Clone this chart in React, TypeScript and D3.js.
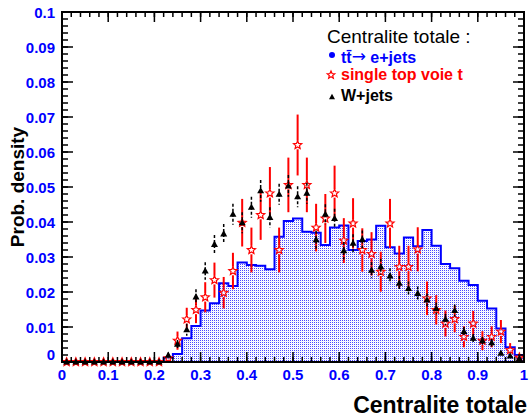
import React from "react";
import * as d3 from "d3";

// 50 bins of width 0.02 over [0,1]
const nBins = 50;
const binEdges = d3.range(nBins + 1).map((i) => i * 0.02);
const binCenters = d3.range(nBins).map((i) => i * 0.02 + 0.01);

// tt -> e+jets (blue histogram)
const ttValues = [
  0, 0, 0, 0, 0, 0, 0, 0, 0, 0,
  0, 0.0012, 0.0023, 0.0068, 0.0103, 0.0147, 0.0168, 0.0225, 0.0217, 0.0284,
  0.0277, 0.0275, 0.0265, 0.0358, 0.0403, 0.041, 0.0372, 0.0369, 0.0334, 0.0384,
  0.039, 0.032, 0.0346, 0.035, 0.0389, 0.0328, 0.031, 0.0356, 0.0331, 0.0377,
  0.0332, 0.028, 0.0268, 0.0232, 0.022, 0.0175, 0.0153, 0.0096, 0.0042, 0.002,
];

// single top voie t (red open stars)
const stValues = [
  0, 0, 0, 0, 0, 0, 0, 0, 0, 0,
  0, 0.0011, 0.0061, 0.0122, 0.0149, 0.0185, 0.0234, 0.0198, 0.026, 0.0398,
  0.032, 0.042, 0.0482, 0.032, 0.0506, 0.062, 0.0506, 0.0384, 0.041, 0.0482,
  0.0347, 0.0396, 0.032, 0.0309, 0.0258, 0.0396, 0.0272, 0.0272, 0.0322, 0.0182,
  0.0149, 0.011, 0.0123, 0.0072, 0.011, 0.0061, 0.0072, 0.0087, 0.0034, 0.0013,
];
const stErrors = [
  0, 0, 0, 0, 0, 0, 0, 0, 0, 0,
  0, 0.001, 0.0026, 0.0033, 0.0038, 0.0043, 0.005, 0.0045, 0.0052, 0.0068,
  0.0064, 0.0071, 0.0075, 0.0064, 0.0078, 0.0087, 0.0078, 0.0068, 0.007, 0.0079,
  0.0064, 0.0072, 0.0062, 0.0062, 0.0057, 0.007, 0.006, 0.006, 0.0063, 0.0048,
  0.0042, 0.0037, 0.0038, 0.003, 0.0036, 0.0027, 0.003, 0.0033, 0.002, 0.0013,
];

// W+jets (black triangles)
const wjValues = [
  0, 0, 0, 0, 0, 0, 0, 0, 0, 0,
  0, 0.0019, 0.0051, 0.0092, 0.0186, 0.026, 0.0336, 0.0366, 0.0422, 0.0398,
  0.0442, 0.0489, 0.0413, 0.0479, 0.0503, 0.0472, 0.0482, 0.0349, 0.0422, 0.041,
  0.0318, 0.0339, 0.035, 0.0262, 0.0272, 0.0246, 0.0225, 0.021, 0.0196, 0.0177,
  0.0153, 0.0122, 0.0147, 0.0087, 0.0068, 0.0061, 0.0055, 0.0025, 0.0017, 0.001,
];
const wjErrors = [
  0, 0, 0, 0, 0, 0, 0, 0, 0, 0,
  0, 0.0008, 0.0012, 0.0017, 0.0022, 0.0025, 0.0027, 0.0028, 0.003, 0.003,
  0.003, 0.0031, 0.0029, 0.003, 0.0031, 0.003, 0.003, 0.0026, 0.0029, 0.0028,
  0.0025, 0.0026, 0.0026, 0.0023, 0.0023, 0.0022, 0.0021, 0.002, 0.002, 0.0019,
  0.0017, 0.0016, 0.0017, 0.0013, 0.0012, 0.0011, 0.0011, 0.0007, 0.0006, 0.0005,
];

const xTickLabels = ["0", "0.1", "0.2", "0.3", "0.4", "0.5", "0.6", "0.7", "0.8", "0.9", "1"];
const yTickLabels = ["0", "0.01", "0.02", "0.03", "0.04", "0.05", "0.06", "0.07", "0.08", "0.09", "0.1"];

const legendTitle = "Centralite totale :";
const legendTT = "tt\u0304";
const legendArrow = "\u2192";
const legendTTRest = " e+jets";
const legendLabels = ["single top voie t", "W+jets"];
const xTitle = "Centralite totale";
const yTitle = "Prob. density";

const W = 529;
const H = 420;
const LEFT = 62;
const RIGHT = 524;
const TOP = 12;
const BOTTOM = 362;
const FONT = "'Liberation Sans', Arial, Helvetica, sans-serif";
const BLUE = "#0000ff";
const RED = "#ff0000";

function starPath(cx: number, cy: number, R: number, r: number) {
  const pts: [number, number][] = [];
  for (let k = 0; k < 10; k++) {
    const a = -Math.PI / 2 + (k * Math.PI) / 5;
    const rad = k % 2 === 0 ? R : r;
    pts.push([cx + rad * Math.cos(a), cy + rad * Math.sin(a)]);
  }
  return "M" + pts.map((p) => p[0].toFixed(2) + "," + p[1].toFixed(2)).join("L") + "Z";
}

function triPath(cx: number, cy: number, s: number) {
  const h = s * 0.9;
  return `M${cx},${cy - h * 0.6}L${cx + s / 2},${cy + h * 0.4}L${cx - s / 2},${cy + h * 0.4}Z`;
}

export default function App() {
  const x = d3.scaleLinear().domain([0, 1]).range([LEFT, RIGHT]);
  const y = d3.scaleLinear().domain([0, 0.1]).range([BOTTOM, TOP]);

  const stepPts: [number, number][] = [];
  ttValues.forEach((v, i) => {
    stepPts.push([x(binEdges[i]), y(v)]);
    stepPts.push([x(binEdges[i + 1]), y(v)]);
  });
  const line = d3.line<[number, number]>().x((d) => d[0]).y((d) => d[1]);
  const histLine = line(stepPts) || "";
  const histArea =
    d3
      .area<[number, number]>()
      .x((d) => d[0])
      .y0(y(0))
      .y1((d) => d[1])(stepPts) || "";

  const xMajor = d3.range(0, 11).map((i) => i / 10);
  const xMinor = d3.range(0, 51).map((i) => i / 50);
  const yMajor = d3.range(0, 11).map((i) => i / 100);
  const yMinor = d3.range(0, 51).map((i) => i / 500);

  const starR = 4.3;
  const triS = 7;

  return (
    <svg
      width={W}
      height={H}
      style={{ position: "absolute", left: 0, top: 0, background: "#fff" }}
      fontFamily={FONT}
    >
      <defs>
        <pattern id="dots" width="2" height="2" patternUnits="userSpaceOnUse">
          <rect width="2" height="2" fill="#ffffff" />
          <rect width="1" height="1" fill="#4848ff" />
          <rect x="1" y="1" width="1" height="1" fill="#eeeeff" />
        </pattern>
      </defs>
      <rect width={W} height={H} fill="#fff" />

      {/* histogram */}
      <path d={histArea} fill="url(#dots)" stroke="none" />
      <path d={histLine} fill="none" stroke={BLUE} strokeWidth={2} />

      {/* single top: red error bars + open stars */}
      {binCenters.map((c, i) => {
        const cx = x(c);
        const cy = y(stValues[i]);
        const top = y(stValues[i] + stErrors[i]);
        const bot = y(Math.max(0, stValues[i] - stErrors[i]));
        return (
          <g key={"st" + i}>
            {cy - top > starR && (
              <line x1={cx} x2={cx} y1={top} y2={cy - starR} stroke={RED} strokeWidth={2} />
            )}
            {bot - cy > starR && (
              <line x1={cx} x2={cx} y1={cy + starR} y2={bot} stroke={RED} strokeWidth={2} />
            )}
            <path d={starPath(cx, cy, starR, starR * 0.45)} fill="#fff" fillOpacity={0.6} stroke={RED} strokeWidth={1.2} />
          </g>
        );
      })}

      {/* W+jets: black dashed error bars + triangles */}
      {binCenters.map((c, i) => {
        const cx = x(c);
        const cy = y(wjValues[i]);
        const top = y(wjValues[i] + wjErrors[i]);
        const bot = y(Math.max(0, wjValues[i] - wjErrors[i]));
        return (
          <g key={"wj" + i}>
            <line x1={cx} x2={cx} y1={top} y2={bot} stroke="#000" strokeWidth={1.5} strokeDasharray="3,2" />
            <path d={triPath(cx, cy, triS)} fill="#000" />
          </g>
        );
      })}

      {/* frame */}
      <rect x={LEFT} y={TOP} width={RIGHT - LEFT} height={BOTTOM - TOP} fill="none" stroke="#000" strokeWidth={2} />

      {/* x ticks (bottom and top) */}
      {xMinor.map((t, i) => (
        <g key={"xm" + i}>
          <line x1={x(t)} x2={x(t)} y1={BOTTOM} y2={BOTTOM - 5} stroke="#000" strokeWidth={1.5} />
          <line x1={x(t)} x2={x(t)} y1={TOP} y2={TOP + 5} stroke="#000" strokeWidth={1.5} />
        </g>
      ))}
      {xMajor.map((t, i) => (
        <g key={"xM" + i}>
          <line x1={x(t)} x2={x(t)} y1={BOTTOM} y2={BOTTOM - 10} stroke="#000" strokeWidth={1.5} />
          <line x1={x(t)} x2={x(t)} y1={TOP} y2={TOP + 10} stroke="#000" strokeWidth={1.5} />
        </g>
      ))}
      {/* y ticks (left and right) */}
      {yMinor.map((t, i) => (
        <g key={"ym" + i}>
          <line x1={LEFT} x2={LEFT + 6} y1={y(t)} y2={y(t)} stroke="#000" strokeWidth={1.5} />
          <line x1={RIGHT} x2={RIGHT - 6} y1={y(t)} y2={y(t)} stroke="#000" strokeWidth={1.5} />
        </g>
      ))}
      {yMajor.map((t, i) => (
        <g key={"yM" + i}>
          <line x1={LEFT} x2={LEFT + 11} y1={y(t)} y2={y(t)} stroke="#000" strokeWidth={1.5} />
          <line x1={RIGHT} x2={RIGHT - 11} y1={y(t)} y2={y(t)} stroke="#000" strokeWidth={1.5} />
        </g>
      ))}

      {/* tick labels */}
      {xTickLabels.map((lab, i) => (
        <text key={"xl" + i} x={x(xMajor[i])} y={380} textAnchor="middle" fontSize={15} fontWeight="bold" fill={BLUE}>
          {lab}
        </text>
      ))}
      {yTickLabels.map((lab, i) => (
        <text
          key={"yl" + i}
          x={55}
          y={(i === 0 ? y(yMajor[i]) - 8 : y(yMajor[i])) + 5.5}
          textAnchor="end"
          fontSize={15}
          fontWeight="bold"
          fill={BLUE}
        >
          {lab}
        </text>
      ))}

      {/* axis titles */}
      <text x={527} y={413} textAnchor="end" fontSize={23} fontWeight="bold" fill="#000">
        {xTitle}
      </text>
      <text
        transform={`translate(24,${(TOP + BOTTOM) / 2}) rotate(-90)`}
        textAnchor="middle"
        fontSize={19}
        fontWeight="bold"
        fill="#000"
      >
        {yTitle}
      </text>

      {/* legend */}
      <text x={327} y={43} fontSize={19} fill="#000">
        {legendTitle}
      </text>
      <circle cx={332} cy={55} r={3} fill={BLUE} />
      <text x={341} y={63} fontSize={16} fontWeight="bold" fill={BLUE}>
        {legendTT}
        <tspan fontFamily="'DejaVu Sans', sans-serif" fontWeight="normal" fontSize={17} dy={-1}>
          {legendArrow}
        </tspan>
        <tspan dy={1}>{legendTTRest}</tspan>
      </text>
      <path d={starPath(331, 75, 4, 1.8)} fill="#fff" stroke={RED} strokeWidth={1.2} />
      <text x={341} y={80} fontSize={16} fontWeight="bold" fill={RED}>
        {legendLabels[0]}
      </text>
      <path d={triPath(332, 97, 6)} fill="#000" />
      <text x={341} y={101} fontSize={16} fontWeight="bold" fill="#000">
        {legendLabels[1]}
      </text>
    </svg>
  );
}
